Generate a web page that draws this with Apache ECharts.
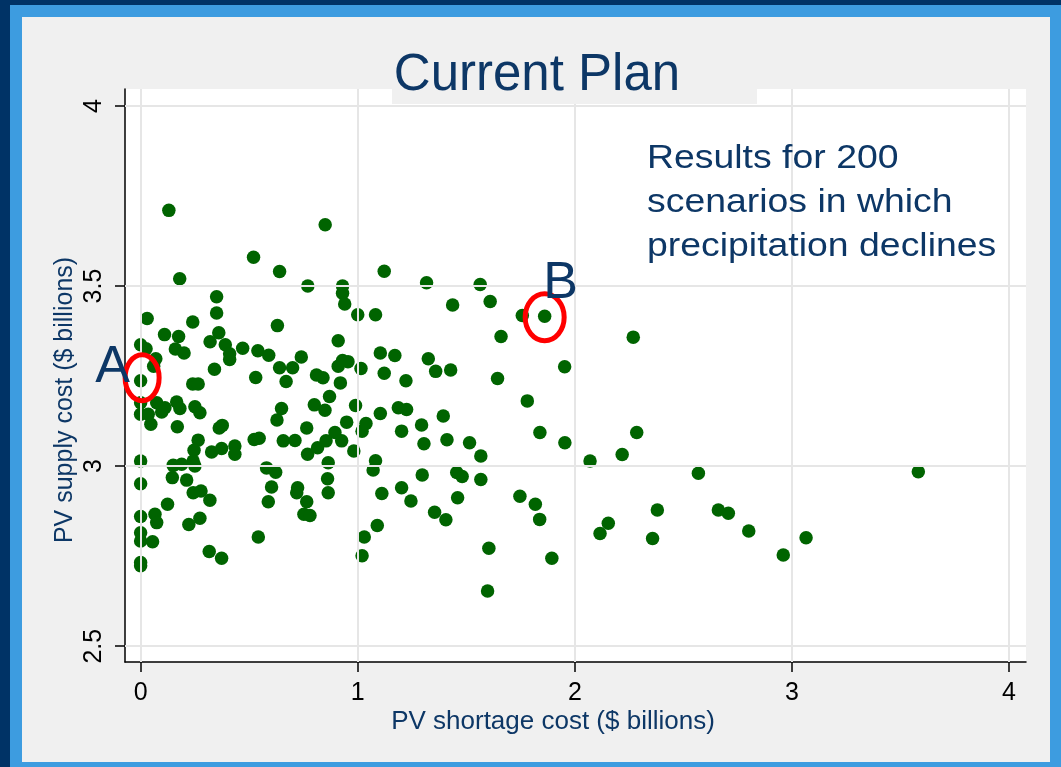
<!DOCTYPE html>
<html lang="en">
<head>
<meta charset="UTF-8">
<title>Current Plan</title>
<script src="https://cdn.jsdelivr.net/npm/echarts@6.0.0/dist/echarts.min.js"></script>
<style>
    * { margin: 0; padding: 0; }
    body { width: 1061px; height: 767px; overflow: hidden; background: #003366; }
    .band { position: absolute; left: 10px; top: 5px; right: 0; bottom: 0; background: #3d9ce0; }
    .panel { position: absolute; left: 22px; top: 17px; width: 1028px; height: 745px; background: #f0f0f0; }
    #chart { position: absolute; left: 0; top: 0; width: 1061px; height: 767px; }
</style>
</head>
<body>
<div class="band"></div>
<div class="panel"></div>
<div id="chart"></div>
<script>
// PV shortage cost ($ billions) for each scenario
var shortageCost = [
    0.13, 0.85, 0.52, 0.64, 0.18, 0.77, 0.93, 0.93, 0.94, 0.35,
    0.35, 1.00, 0.03, 0.24, 0.63, 0.11, 0.175, 0.36, 0.00, 0.025,
    0.16, 0.20, 0.32, 0.39, 0.41, 0.41, 0.47, 0.54, 0.59, 0.74,
    0.91, 0.07, 0.06, 0.00, 0.34, 0.53, 0.64, 0.70, 0.67, 0.81,
    0.84, 0.91, 0.93, 0.955, 1.015, 0.92, 0.87, 0.24, 0.265, 0.00,
    0.00, 0.035, 0.047, 0.074, 0.112, 0.097, 0.166, 0.181, 0.25, 0.273,
    0.169, 0.362, 0.376, 0.265, 0.246, 0.327, 0.373, 0.434, 0.434, 0.15,
    0.189, 0.242, 0.25, 0.146, 0.212, 0.00, 0.00, 0.242, 0.278, 0.319,
    0.124, 0.00, 0.066, 0.074, 0.222, 0.273, 0.00, 0.00, 0.055, 0.316,
    0.373, 0.00, 0.00, 0.542, 0.523, 0.546, 0.628, 0.649, 0.657, 0.711,
    0.765, 0.80, 0.849, 0.769, 0.815, 0.854, 0.895, 0.926, 0.949, 0.99,
    0.982, 1.02, 0.864, 0.861, 0.864, 0.58, 0.622, 0.603, 0.588, 0.723,
    0.719, 0.765, 0.752, 0.78, 1.03, 1.02, 1.122, 1.317, 1.564, 1.437,
    1.61, 1.082, 1.758, 1.861, 1.66, 1.104, 1.171, 1.325, 1.122, 1.222,
    1.359, 1.428, 1.644, 1.953, 1.781, 1.104, 1.187, 1.225, 1.038, 1.202,
    1.294, 1.394, 1.305, 1.411, 1.515, 1.567, 1.839, 1.954, 2.07, 1.082,
    1.071, 1.297, 1.456, 1.481, 1.567, 1.111, 1.202, 1.245, 1.46, 1.747,
    1.818, 1.838, 1.354, 1.406, 1.09, 1.604, 1.894, 1.598, 2.269, 2.285,
    2.218, 2.569, 3.582, 2.38, 2.154, 2.116, 2.358, 2.661, 2.707, 2.801,
    2.96, 3.065
];
// PV supply cost ($ billions), same order
var supplyCost = [
    3.71, 3.67, 3.58, 3.54, 3.52, 3.50, 3.50, 3.48, 3.45, 3.47,
    3.425, 3.42, 3.41, 3.40, 3.39, 3.365, 3.36, 3.37, 3.337, 3.326,
    3.325, 3.314, 3.345, 3.337, 3.312, 3.296, 3.327, 3.32, 3.308, 3.303,
    3.348, 3.298, 3.277, 3.237, 3.269, 3.246, 3.273, 3.273, 3.235, 3.253,
    3.245, 3.277, 3.293, 3.29, 3.271, 3.231, 3.193, 3.228, 3.228, 3.176,
    3.144, 3.144, 3.116, 3.176, 3.162, 3.15, 3.178, 3.16, 3.165, 3.148,
    3.109, 3.106, 3.113, 3.072, 3.044, 3.039, 3.049, 3.056, 3.033, 3.002,
    3.005, 3.014, 3.0, 2.968, 2.961, 3.014, 2.951, 2.926, 2.931, 2.905,
    2.894, 2.86, 2.866, 2.843, 2.838, 2.855, 2.815, 2.792, 2.79, 2.763,
    2.744, 2.732, 2.723, 2.803, 3.074, 3.077, 3.128, 3.16, 3.07, 3.071,
    3.106, 3.17, 3.155, 3.033, 3.051, 3.07, 3.093, 3.07, 3.122, 3.168,
    3.042, 3.097, 3.009, 2.965, 2.926, 2.995, 2.983, 2.942, 2.901, 2.94,
    2.926, 2.901, 2.866, 2.863, 2.803, 2.751, 3.541, 3.509, 3.504, 3.447,
    3.457, 3.42, 3.418, 3.416, 3.36, 3.314, 3.307, 3.298, 3.258, 3.237,
    3.263, 3.267, 3.243, 3.276, 3.181, 3.146, 3.162, 3.157, 3.118, 3.097,
    3.114, 3.139, 3.062, 3.073, 3.065, 3.028, 3.093, 3.065, 3.014, 3.015,
    2.989, 2.975, 2.982, 2.971, 2.963, 2.924, 2.94, 2.903, 2.912, 2.916,
    2.894, 2.852, 2.872, 2.851, 2.835, 2.772, 2.744, 2.653, 3.358, 3.093,
    3.032, 2.98, 2.984, 2.878, 2.841, 2.813, 2.799, 2.878, 2.869, 2.82,
    2.753, 2.801
];
var xTicks = [0, 1, 2, 3, 4];
var yTicks = [2.5, 3, 3.5, 4];
// scenarios circled on the slide
var markedScenarios = [
    { label: 'A', index: 33 },
    { label: 'B', index: 133 }
];

var navy = '#0d3766';
var font = 'Liberation Sans, Arial, sans-serif';
var points = shortageCost.map(function (x, i) { return [x, supplyCost[i]]; });
var gridLines = xTicks.map(function (v) { return { xAxis: v }; })
    .concat(yTicks.map(function (v) { return { yAxis: v }; }));

var myChart = echarts.init(document.getElementById('chart'));

var option = {
    animation: false,
    grid: {
        left: 125, right: 35, top: 89, bottom: 105,
        show: true, backgroundColor: '#ffffff', borderWidth: 0
    },
    xAxis: {
        type: 'value', min: -0.072, max: 4.078,
        splitLine: { show: false },
        axisLine: { show: true, onZero: false, lineStyle: { color: '#000', width: 1.5 } },
        axisTick: { show: true, customValues: xTicks, length: 10, lineStyle: { color: '#000', width: 1.5 } },
        axisLabel: { customValues: xTicks, fontSize: 25, color: '#000', margin: 19, fontFamily: font }
    },
    yAxis: {
        type: 'value', min: 2.456, max: 4.047,
        splitLine: { show: false },
        axisLine: { show: true, onZero: false, lineStyle: { color: '#000', width: 1.5 } },
        axisTick: { show: true, customValues: yTicks, length: 10, lineStyle: { color: '#000', width: 1.5 } },
        axisLabel: { customValues: yTicks, rotate: 90, fontSize: 25, color: '#000', margin: 18, fontFamily: font }
    },
    series: [
        {
            // light grid lines at the tick values
            type: 'line', data: [], z: 1, silent: true,
            markLine: {
                silent: true, symbol: ['none', 'none'], label: { show: false },
                lineStyle: { color: '#e6e6e6', width: 2, type: 'solid' },
                emphasis: { disabled: true },
                data: gridLines
            }
        },
        {
            type: 'scatter', z: 3,
            symbolSize: 13.5,
            itemStyle: { color: '#006400', opacity: 1 },
            data: points
        }
    ],
    graphic: [
        { type: 'rect', z: 100, shape: { x: 392, y: 40, width: 365, height: 64 }, style: { fill: '#f0f0f0' } },
        { type: 'text', z: 101, x: 537, y: 76, style: { text: 'Current Plan', fill: navy, fontSize: 51, fontFamily: font, align: 'center', verticalAlign: 'middle' } },
        { type: 'text', z: 101, x: 647, y: 137, scaleX: 1.1, style: { text: 'Results for 200\nscenarios in which\nprecipitation declines', fill: navy, fontSize: 34, lineHeight: 44, fontFamily: font, align: 'left', verticalAlign: 'top' } },
        { type: 'text', z: 101, x: 553, y: 722, style: { text: 'PV shortage cost ($ billions)', fill: navy, fontSize: 26, fontFamily: font, align: 'center', verticalAlign: 'middle' } },
        { type: 'text', z: 101, x: 65, y: 400, rotation: Math.PI / 2, style: { text: 'PV supply cost ($ billions)', fill: navy, fontSize: 25, fontFamily: font, align: 'center', verticalAlign: 'middle' } }
    ]
};

myChart.setOption(option);

// red rings and letters for the marked scenarios, placed from the data
var letterOffset = { A: [-28, -13], B: [16, -33] };
var ringSize = { A: [17, 23, 1.5, -3], B: [19.5, 23.5, 0, 1] };
var extra = [];
markedScenarios.forEach(function (m) {
    var p = myChart.convertToPixel({ gridIndex: 0 }, points[m.index]);
    var r = ringSize[m.label];
    extra.push({
        type: 'ellipse', z: 110,
        shape: { cx: p[0] + r[2], cy: p[1] + r[3], rx: r[0], ry: r[1] },
        style: { fill: 'none', stroke: '#ff0000', lineWidth: 5 }
    });
    extra.push({
        type: 'text', z: 111,
        x: p[0] + letterOffset[m.label][0], y: p[1] + letterOffset[m.label][1],
        style: { text: m.label, fill: navy, fontSize: 52, fontFamily: font, align: 'center', verticalAlign: 'middle' }
    });
});
option.graphic = option.graphic.concat(extra);
myChart.setOption({ graphic: option.graphic });
</script>
</body>
</html>
